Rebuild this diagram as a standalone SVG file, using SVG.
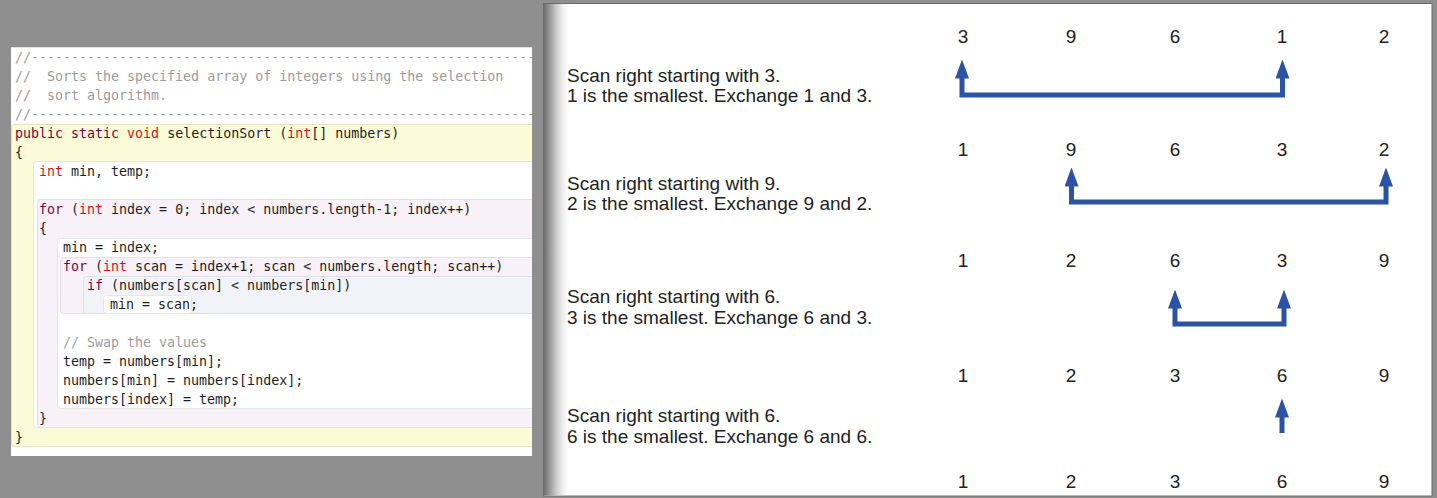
<svg xmlns="http://www.w3.org/2000/svg" width="1437" height="498" viewBox="0 0 1437 498">
<style>
.code{font-family:"DejaVu Sans Mono","Liberation Mono",monospace;font-size:13.3px;fill:#1e1e1e;white-space:pre}
.cm{fill:#9c9c9c}
.kw{fill:#7f0040}
.ty{fill:#d41414}
.lbl{font-family:"Liberation Sans",Arial,sans-serif;font-size:19px;fill:#222}
.num{font-family:"Liberation Sans",Arial,sans-serif;font-size:19px;fill:#222;text-anchor:middle}
.arr{fill:none;stroke:#2a52a5;stroke-width:5;stroke-linejoin:miter;marker-end:url(#ah)}
.arr2{marker-start:url(#ah)}
.yel{fill:#fbfbd8;stroke:#e2e2c6;stroke-width:1}
.wht{fill:#ffffff;stroke:#e4e6e4;stroke-width:1}
.pnk{fill:#f8f1f7;stroke:#eadaea;stroke-width:1}
.blu{fill:#f2f3f8;stroke:#dde0ea;stroke-width:1}
</style>
<defs>
<marker id="ah" viewBox="0 0 19 14" refX="0.5" refY="7" markerWidth="19" markerHeight="14" markerUnits="userSpaceOnUse" orient="auto-start-reverse">
<path d="M0,0 L19,7 L0,14 Z" fill="#2a52a5"/>
</marker>
<linearGradient id="shade" x1="0" y1="0" x2="1" y2="0">
<stop offset="0" stop-color="#6e6e6e"/>
<stop offset="0.35" stop-color="#b8b8b8"/>
<stop offset="1" stop-color="#ffffff" stop-opacity="0"/>
</linearGradient>
<clipPath id="codeclip"><rect x="11" y="47" width="521" height="409"/></clipPath>
</defs>
<rect x="0" y="0" width="1437" height="498" fill="#8f8f8f"/>

<g id="code-panel" clip-path="url(#codeclip)">
<rect x="11" y="47" width="521" height="409" fill="#ffffff"/>
<line x1="11" y1="47.5" x2="532" y2="47.5" stroke="#d6ead6"/>
<rect class="yel" x="11.5" y="124.5" width="530" height="322" rx="3"/>
<rect class="wht" x="33.5" y="161.5" width="510" height="266" rx="3"/>
<rect class="pnk" x="37.5" y="199.5" width="505" height="228" rx="3"/>
<rect class="wht" x="57.5" y="238.5" width="485" height="170" rx="3"/>
<rect class="pnk" x="60.5" y="257.5" width="482" height="56" rx="3"/>
<rect class="blu" x="83.5" y="276.5" width="459" height="37" rx="3"/>
<rect class="wht" x="103.5" y="295.5" width="88" height="18" rx="3"/>
<g class="code" xml:space="preserve">
<text x="15" y="61.5" class="code cm">//-----------------------------------------------------------------</text>
<text x="15" y="80.5" class="code cm">//  Sorts the specified array of integers using the selection</text>
<text x="15" y="99.5" class="code cm">//  sort algorithm.</text>
<text x="15" y="118.5" class="code cm">//-----------------------------------------------------------------</text>
<text x="15" y="137.5" class="code"><tspan class="kw">public static</tspan> <tspan class="ty">void</tspan> selectionSort (<tspan class="ty">int</tspan>[] numbers)</text>
<text x="15" y="156.5" class="code">{</text>
<text x="39" y="175.5" class="code"><tspan class="ty">int</tspan> min, temp;</text>
<text x="39" y="213.5" class="code"><tspan class="kw">for</tspan> (<tspan class="ty">int</tspan> index = 0; index &lt; numbers.length-1; index++)</text>
<text x="39" y="232.5" class="code">{</text>
<text x="63" y="251.5" class="code">min = index;</text>
<text x="63" y="270.5" class="code"><tspan class="kw">for</tspan> (<tspan class="ty">int</tspan> scan = index+1; scan &lt; numbers.length; scan++)</text>
<text x="87" y="289.5" class="code"><tspan class="kw">if</tspan> (numbers[scan] &lt; numbers[min])</text>
<text x="110" y="308.5" class="code">min = scan;</text>
<text x="63" y="346.5" class="code cm">// Swap the values</text>
<text x="63" y="365.5" class="code">temp = numbers[min];</text>
<text x="63" y="384.5" class="code">numbers[min] = numbers[index];</text>
<text x="63" y="403.5" class="code">numbers[index] = temp;</text>
<text x="39" y="422.5" class="code">}</text>
<text x="15" y="441.5" class="code">}</text>
</g>
</g>

<g id="trace-panel">
<rect x="543.5" y="3.5" width="888.5" height="492.5" fill="#ffffff" stroke="#6a6a6a"/>
<rect x="544" y="4" width="28" height="491.5" fill="url(#shade)"/>
</g>

<g id="row1">
<text class="lbl" x="567" y="82">Scan right starting with 3.</text>
<text class="lbl" x="567" y="102">1 is the smallest. Exchange 1 and 3.</text>
<text class="num" x="963" y="43">3</text><text class="num" x="1071" y="43">9</text><text class="num" x="1175" y="43">6</text><text class="num" x="1282" y="43">1</text><text class="num" x="1384" y="43">2</text>
</g>
<g id="row2">
<text class="lbl" x="567" y="190">Scan right starting with 9.</text>
<text class="lbl" x="567" y="210">2 is the smallest. Exchange 9 and 2.</text>
<text class="num" x="963" y="156">1</text><text class="num" x="1071" y="156">9</text><text class="num" x="1175" y="156">6</text><text class="num" x="1282" y="156">3</text><text class="num" x="1384" y="156">2</text>
</g>
<g id="row3">
<text class="lbl" x="567" y="303">Scan right starting with 6.</text>
<text class="lbl" x="567" y="324">3 is the smallest. Exchange 6 and 3.</text>
<text class="num" x="963" y="267">1</text><text class="num" x="1071" y="267">2</text><text class="num" x="1175" y="267">6</text><text class="num" x="1282" y="267">3</text><text class="num" x="1384" y="267">9</text>
</g>
<g id="row4">
<text class="lbl" x="567" y="422">Scan right starting with 6.</text>
<text class="lbl" x="567" y="443">6 is the smallest. Exchange 6 and 6.</text>
<text class="num" x="963" y="382">1</text><text class="num" x="1071" y="382">2</text><text class="num" x="1175" y="382">3</text><text class="num" x="1282" y="382">6</text><text class="num" x="1384" y="382">9</text>
</g>
<g id="row5">
<text class="num" x="963" y="488">1</text><text class="num" x="1071" y="488">2</text><text class="num" x="1175" y="488">3</text><text class="num" x="1282" y="488">6</text><text class="num" x="1384" y="488">9</text>
</g>

<g id="connectors">
<path class="arr arr2" d="M962,78 V95 H1282.5 V78"/>
<path class="arr arr2" d="M1071.5,186 V202 H1386 V186"/>
<path class="arr arr2" d="M1175,308 V324 H1284 V308"/>
<path class="arr" d="M1282,433 V417"/>
</g>
</svg>
